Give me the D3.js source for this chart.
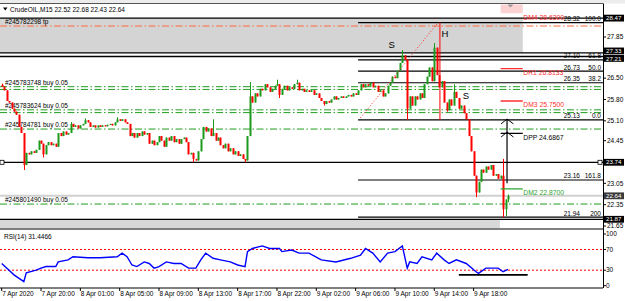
<!DOCTYPE html>
<html lang="en">
<head>
<meta charset="UTF-8">
<title>CrudeOIL,M15</title>
<script src="https://d3js.org/d3.v7.min.js"></script>
<style>
  body { margin: 0; background: #fff; }
  svg { display: block; font-family: "Liberation Sans", Arial, sans-serif; }
  .lbl { font-size: 6.5px; fill: #000; }
</style>
</head>
<body>
<script>
// ---- data ----
const firstOpen = 26.28;
const closes = [
  26.22, 26.10, 25.75, 25.70, 25.50, 25.40, 25.30, 24.90, 24.70, 23.65,
  24.05, 24.00, 24.10, 24.05, 24.15, 24.45, 24.35, 24.00, 24.30, 24.40,
  24.30, 24.35, 24.25, 24.70, 24.60, 24.75, 24.65, 24.70, 25.00, 24.90,
  24.95, 24.85, 24.95, 25.00, 25.12, 25.05, 24.90, 24.95, 24.88, 24.95,
  24.90, 24.95, 24.92, 24.97, 25.00, 24.95, 25.05, 25.15, 25.10, 25.15,
  25.05, 25.00, 24.60, 24.70, 24.55, 24.70, 24.60, 24.75, 24.65, 24.70,
  24.35, 24.45, 24.30, 24.40, 24.60, 24.45, 24.25, 24.55, 24.45, 24.60,
  24.40, 24.50, 24.35, 24.50, 24.55, 24.40, 24.00, 24.05, 23.85, 23.80,
  24.10, 24.50, 24.90, 24.75, 24.85, 24.60, 24.70, 24.45, 24.55, 24.30,
  24.20, 24.35, 24.10, 24.20, 24.00, 24.10, 23.95, 24.00, 23.85, 23.80,
  24.60, 25.90, 25.70, 26.00, 25.90, 26.15, 26.10, 26.30, 26.20, 26.05,
  26.15, 26.25, 26.30, 25.95, 26.15, 26.25, 26.10, 26.20, 26.15, 26.30,
  26.35, 26.10, 26.15, 26.05, 26.10, 26.05, 26.10, 25.95, 26.00, 25.85,
  25.75, 25.65, 25.75, 25.70, 25.80, 25.90, 25.80, 25.85, 25.90, 25.85,
  25.90, 25.95, 25.90, 26.00, 25.95, 26.10, 26.30, 26.20, 26.30, 26.25,
  26.35, 26.20, 26.25, 26.05, 26.10, 25.90, 26.00, 26.25, 26.35, 26.55,
  26.50, 26.75, 27.00, 27.25, 27.10, 25.50, 25.90, 25.60, 25.90, 25.80,
  26.00, 25.85, 26.30, 26.55, 26.85, 26.40, 27.50, 26.60, 26.20, 26.40,
  25.70, 25.45, 25.80, 25.60, 26.05, 25.85, 25.50, 25.60, 25.35, 25.15,
  24.60, 24.10, 23.30, 22.75, 23.10, 23.50, 23.40, 23.60, 23.50, 23.65,
  23.30, 23.35, 23.20, 23.30, 22.20, 22.52, 22.64
];
// bars whose wicks stick out: [bar index, price]
const highWicks = [[0, 26.32], [28, 25.06], [34, 25.18], [47, 25.22], [86, 25.15], [101, 26.37],
  [112, 26.45], [120, 26.45], [163, 27.42], [176, 27.65], [184, 26.30], [204, 23.85], [206, 22.68]];
const lowWicks = [[9, 23.49], [17, 23.90], [78, 23.74], [99, 23.74], [113, 25.85], [131, 25.60],
  [165, 25.13], [181, 25.40], [193, 22.60], [204, 21.94], [205, 21.98], [206, 22.43]];

const timeIdx = [0, 16, 32, 48, 64, 80, 96, 112, 128, 144, 160, 176, 192];
const timeLabels = ["7 Apr 2020", "7 Apr 20:00", "8 Apr 01:00", "8 Apr 05:00", "8 Apr 09:00",
  "8 Apr 13:00", "8 Apr 17:00", "8 Apr 22:00", "9 Apr 02:00", "9 Apr 06:00", "9 Apr 10:00",
  "9 Apr 14:00", "9 Apr 18:00"];

const priceTicks = [27.85, 26.50, 25.80, 25.10, 24.45, 23.05, 22.35, 21.65];
const levelPrices = [28.47, 27.33, 27.21, 23.74, 21.87];
const bidPrice = 22.64;

const fibPrices = [28.32, 27.10, 26.73, 26.35, 25.13, 23.16, 21.94];
const fibPcts = ["100.0", "61.8", "50.0", "38.2", "0.0", "161.8", "200"];

const orderPrices = [28.21, 26.22, 26.13, 25.46, 25.37, 24.83, 22.37];
const orderLabels = ["#245782298 tp", "#245783748 buy 0.05", "", "#245783624 buy 0.05", "",
  "#245784781 buy 0.05", "#245801490 buy 0.05"];

const pivotNames = ["DM4", "DR1", "DM3", "DPP", "DM2"];
const pivotPrices = [28.63, 26.8133, 25.75, 24.6867, 22.87];

const patternNames = ["S", "H", "S"];
const patternIdx = [158.7, 180.3, 188.9];
const patternPrices = [27.59, 27.98, 25.92];

const rsiIdx = [0, 3, 5, 9, 10, 14, 16, 18, 22, 23, 27, 29, 35, 40, 47, 49, 51, 53, 55, 58,
  60, 62, 64, 67, 70, 73, 76, 79, 81, 83, 86, 89, 93, 96, 99, 100, 102, 106, 109, 113,
  114, 118, 121, 125, 130, 136, 142, 146, 148, 151, 154, 157, 160, 163, 165, 166, 169, 171, 175, 177,
  180, 182, 185, 189, 193, 194, 197, 202, 204, 206];
const rsiVal = [43, 30, 21, 8, 25, 30, 34, 37, 37, 46, 50, 56, 54, 54, 56, 63, 56, 40, 37, 46,
  43, 34, 37, 46, 43, 43, 34, 34, 50, 63, 53, 50, 46, 40, 37, 66, 72, 77, 72, 72,
  66, 69, 63, 63, 50, 46, 53, 59, 72, 63, 46, 63, 66, 77, 34, 46, 43, 56, 50, 63,
  50, 43, 50, 43, 27, 24, 34, 34, 27, 31.45];
const rsiNow = 31.4466;
const rsiLevels = [70, 30];
const rsiTicks = [100, 70, 30, 0];

// ---- layout ----
const W = 625, H = 301;
const plotRight = 603, mainTop = 3.5, mainBottom = 229, rsiBottom = 288;
const bull = "#1c9a1c", bear = "#ff0000", orderGreen = "#1f9e1f", tpColor = "#ff6a3d";

const x = d3.scaleLinear().domain([0, 192]).range([1.7, 473.6]);
const y = d3.scaleLinear().domain([21.65, 27.85]).range([226, 37]);
const yR = d3.scaleLinear().domain([0, 100]).range([285.7, 234]);

const svg = d3.select("body").append("svg").attr("width", W).attr("height", H);
svg.append("rect").attr("width", W).attr("height", H).attr("fill", "#fff");

// window chrome on top
svg.append("rect").attr("width", W).attr("height", mainTop).attr("fill", "#ececec");

svg.append("clipPath").attr("id", "clipMain").append("rect")
  .attr("x", 0).attr("y", mainTop).attr("width", plotRight).attr("height", mainBottom - mainTop);
const main = svg.append("g").attr("clip-path", "url(#clipMain)");

// grey zones
main.append("rect").attr("x", 0).attr("y", y(28.47))
  .attr("width", x(212)).attr("height", y(27.33) - y(28.47)).attr("fill", "#d4d4d4");
main.append("rect").attr("x", 0).attr("y", y(21.86))
  .attr("width", x(202.7)).attr("height", y(21.58) - y(21.86)).attr("fill", "#d8d8d8");
main.append("rect").attr("x", x(203)).attr("y", mainTop + 1)
  .attr("width", x(212) - x(203)).attr("height", y(28.63) - mainTop - 1).attr("fill", "#fbd3d3");
main.append("path")
  .attr("d", `M${x(207) - 3},${mainTop + 1}h6l-3,3z`).attr("fill", "#999");

// bid line
main.append("line").attr("x1", 0).attr("x2", plotRight)
  .attr("y1", y(bidPrice)).attr("y2", y(bidPrice)).attr("stroke", "#d0d0d0").attr("stroke-width", 2);

// order lines
orderPrices.forEach((p, k) => {
  main.append("line").attr("x1", 0).attr("x2", plotRight).attr("y1", y(p)).attr("y2", y(p))
    .attr("stroke", k === 0 ? tpColor : orderGreen).attr("stroke-width", 1)
    .attr("stroke-dasharray", "7,2.5,1.5,2.5");
  if (orderLabels[k]) {
    main.append("text").attr("class", "lbl").attr("x", 5).attr("y", y(p) - 2)
      .text(orderLabels[k]);
  }
});

// full-width levels
levelPrices.forEach(p => {
  main.append("line").attr("x1", 0).attr("x2", plotRight).attr("y1", y(p)).attr("y2", y(p))
    .attr("stroke", "#000").attr("stroke-width", 1.3);
});
[2, plotRight - 3].forEach(cx => {
  svg.append("rect").attr("x", cx - 2).attr("y", y(23.74) - 2).attr("width", 4).attr("height", 4)
    .attr("fill", "#fff").attr("stroke", "#000").attr("stroke-width", 0.8);
});

// fibonacci
fibPrices.forEach((p, k) => {
  main.append("line").attr("x1", x(145)).attr("x2", plotRight).attr("y1", y(p)).attr("y2", y(p))
    .attr("stroke", "#000").attr("stroke-width", 1.1);
  main.append("text").attr("class", "lbl").attr("x", 580).attr("y", y(p) - 1.5)
    .attr("text-anchor", "end").text(p.toFixed(2));
  main.append("text").attr("class", "lbl").attr("x", 601).attr("y", y(p) - 1.5)
    .attr("text-anchor", "end").text(fibPcts[k]);
});

// candles
const hiMap = new Map(highWicks), loMap = new Map(lowWicks);
const bars = closes.map((c, i) => {
  const o = i === 0 ? firstOpen : closes[i - 1];
  return { i, o, c, h: hiMap.get(i) ?? Math.max(o, c), l: loMap.get(i) ?? Math.min(o, c) };
});
const candle = main.append("g").selectAll("g").data(bars).enter().append("g");
candle.append("line")
  .attr("x1", d => Math.round(x(d.i)) + 0.5).attr("x2", d => Math.round(x(d.i)) + 0.5)
  .attr("y1", d => y(d.h)).attr("y2", d => y(d.l))
  .attr("stroke", d => d.c >= d.o ? bull : bear).attr("stroke-width", 1);
candle.append("rect")
  .attr("x", d => Math.round(x(d.i)) - 0.5).attr("width", 2)
  .attr("y", d => y(Math.max(d.o, d.c)))
  .attr("height", d => Math.max(1, Math.abs(y(d.o) - y(d.c))))
  .attr("fill", d => d.c >= d.o ? bull : bear);

// head & shoulders drawings
main.append("line").attr("x1", x(146)).attr("y1", y(25.2)).attr("x2", x(177.5)).attr("y2", y(28.32))
  .attr("stroke", "#ff2020").attr("stroke-width", 1).attr("stroke-dasharray", "1,2");
main.append("line").attr("x1", x(178.3)).attr("x2", x(178.3)).attr("y1", y(28.32)).attr("y2", y(25.13))
  .attr("stroke", "#ff0000").attr("stroke-width", 1);
patternNames.forEach((t, k) => {
  main.append("text").attr("x", x(patternIdx[k])).attr("y", y(patternPrices[k]) + 3.5)
    .attr("text-anchor", "middle").attr("font-size", 9.5).attr("fill", "#000").text(t);
});

// arrow
const ax = x(205.6);
main.append("line").attr("x1", ax).attr("x2", ax).attr("y1", y(25.15)).attr("y2", y(23.05))
  .attr("stroke", "#000").attr("stroke-width", 1.2);
[25.16, 24.73].forEach(p => {
  main.append("path")
    .attr("d", `M${x(203.2)},${y(p - 0.16)}L${ax},${y(p)}L${x(208.2)},${y(p - 0.16)}`)
    .attr("fill", "none").attr("stroke", "#000").attr("stroke-width", 1);
});

// pivots
pivotNames.forEach((n, k) => {
  const p = pivotPrices[k];
  const col = n === "DPP" ? "#000" : n === "DM2" ? "#2fa52f" : "#ff3030";
  if (n !== "DM4") {
    main.append("line").attr("x1", x(203)).attr("x2", x(212)).attr("y1", y(p)).attr("y2", y(p))
      .attr("stroke", col).attr("stroke-width", 1.3);
  }
  main.append("text").attr("x", x(212) + 0.5).attr("y", y(p) + 6.3).attr("font-size", 6.8)
    .attr("fill", col).text(n + " " + p.toFixed(4));
});

// header
svg.append("path").attr("d", "M3,7.5h4.5l-2.25,3z").attr("fill", "#000");
svg.append("text").attr("class", "lbl").attr("x", 10).attr("y", 11.5)
  .text("CrudeOIL,M15  22.52 22.68 22.43 22.64");

// frames
svg.append("line").attr("x1", 0).attr("x2", plotRight).attr("y1", mainTop).attr("y2", mainTop)
  .attr("stroke", "#555");
svg.append("line").attr("x1", 0).attr("x2", plotRight).attr("y1", mainBottom).attr("y2", mainBottom)
  .attr("stroke", "#000");
svg.append("line").attr("x1", 0).attr("x2", plotRight).attr("y1", rsiBottom).attr("y2", rsiBottom)
  .attr("stroke", "#000");
svg.append("line").attr("x1", plotRight + 0.5).attr("x2", plotRight + 0.5).attr("y1", mainTop).attr("y2", rsiBottom)
  .attr("stroke", "#000");

// price axis
priceTicks.forEach(p => {
  svg.append("line").attr("x1", plotRight).attr("x2", plotRight + 3).attr("y1", y(p)).attr("y2", y(p))
    .attr("stroke", "#000");
  svg.append("text").attr("class", "lbl").attr("x", 607).attr("y", y(p) + 2.3).text(p.toFixed(2));
});
// boxed price labels; the two close ones are nudged apart like the terminal does
const boxShift = [0, -1.9, 1.9, 0, 0, 0];
levelPrices.concat([bidPrice]).forEach((p, k) => {
  const cy = y(p) + boxShift[k];
  svg.append("rect").attr("x", plotRight + 1).attr("y", cy - 3.4).attr("width", 20).attr("height", 6.8)
    .attr("fill", p === bidPrice ? "#3a3a3a" : "#000");
  svg.append("text").attr("x", 606).attr("y", cy + 2.1).attr("font-size", 6.2)
    .attr("fill", "#fff").text(p.toFixed(2));
});

// RSI pane
svg.append("clipPath").attr("id", "clipRsi").append("rect")
  .attr("x", 0).attr("y", mainBottom).attr("width", plotRight).attr("height", rsiBottom - mainBottom);
const rsi = svg.append("g").attr("clip-path", "url(#clipRsi)");
rsiLevels.forEach(v => {
  rsi.append("line").attr("x1", 0).attr("x2", plotRight).attr("y1", yR(v)).attr("y2", yR(v))
    .attr("stroke", "#ff0000").attr("stroke-dasharray", "2,2");
});
rsi.append("line").attr("x1", x(186)).attr("x2", x(214)).attr("y1", yR(21)).attr("y2", yR(21))
  .attr("stroke", "#000").attr("stroke-width", 1.6);
rsi.append("path").datum(rsiIdx.map((d, k) => [d, rsiVal[k]]))
  .attr("d", d3.line().x(d => x(d[0])).y(d => yR(d[1])))
  .attr("fill", "none").attr("stroke", "#0000ff").attr("stroke-width", 1.4);
svg.append("text").attr("class", "lbl").attr("x", 4).attr("y", 238.5)
  .text("RSI(14) " + rsiNow.toFixed(4));
rsiTicks.forEach(v => {
  svg.append("line").attr("x1", plotRight).attr("x2", plotRight + 3).attr("y1", yR(v)).attr("y2", yR(v))
    .attr("stroke", "#000");
  svg.append("text").attr("class", "lbl").attr("x", 606).attr("y", yR(v) + 2.3).text(v);
});

// time axis
timeIdx.forEach((t, k) => {
  svg.append("line").attr("x1", x(t)).attr("x2", x(t)).attr("y1", rsiBottom).attr("y2", rsiBottom + 3)
    .attr("stroke", "#000");
  svg.append("text").attr("class", "lbl").attr("x", x(t) + 0.5).attr("y", 295.5).text(timeLabels[k]);
});
</script>
</body>
</html>
